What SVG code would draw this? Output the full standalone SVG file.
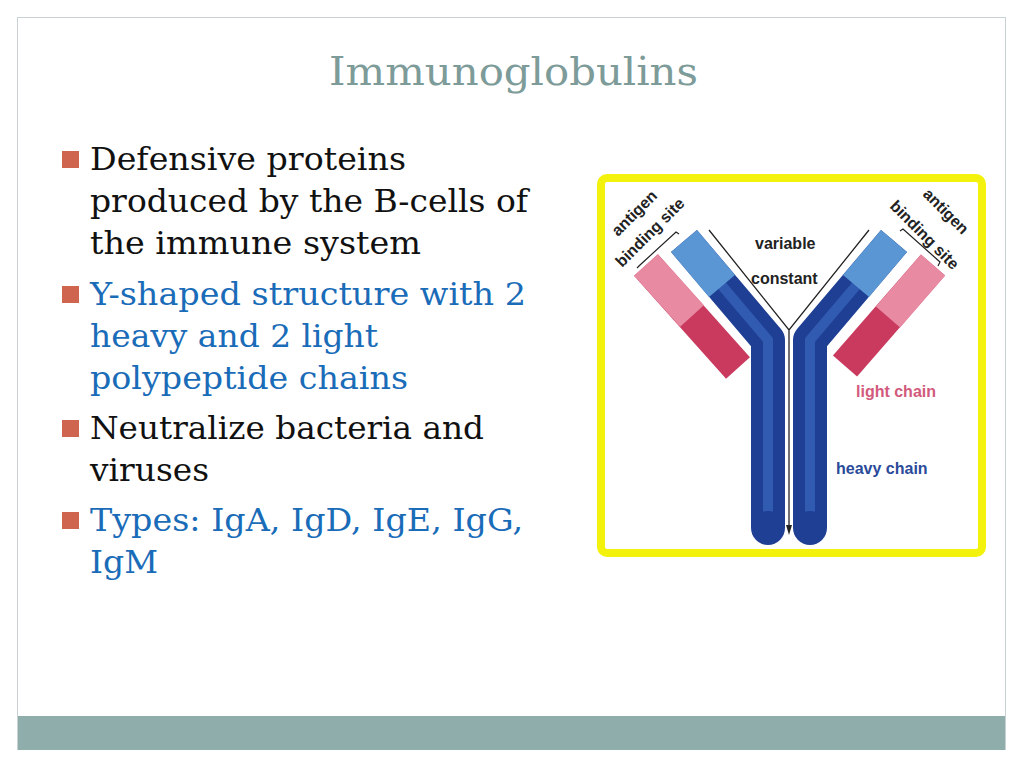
<svg xmlns="http://www.w3.org/2000/svg" width="1024" height="768" viewBox="0 0 1024 768">
<defs>
<style>
.b{font-family:"DejaVu Serif","Liberation Serif",serif;font-size:31px}
.k{fill:#111}.u{fill:#1a6cb8}
.l{font-family:"Liberation Sans",Arial,sans-serif;font-weight:bold;font-size:16px;fill:#222}
.sq{fill:#d0654f}
</style>
</defs>
<rect x="0" y="0" width="1024" height="768" fill="#fff"/>
<rect x="17.5" y="17.5" width="988" height="732" fill="#fff" stroke="#c8d2d2"/>
<rect x="18" y="716" width="987" height="34" fill="#8eadab"/>
<text x="329" y="85" textLength="369" lengthAdjust="spacingAndGlyphs" font-family="DejaVu Serif,serif" font-size="40" fill="#7d9b99">Immunoglobulins</text>
<g id="bullets">
<rect class="sq" x="62" y="151" width="17" height="17"/>
<rect class="sq" x="62" y="286" width="17" height="17"/>
<rect class="sq" x="62" y="420" width="17" height="17"/>
<rect class="sq" x="62" y="512" width="17" height="17"/>
<text class="b k" x="90" y="170" textLength="316" lengthAdjust="spacingAndGlyphs">Defensive proteins</text>
<text class="b k" x="90" y="212" textLength="438" lengthAdjust="spacingAndGlyphs">produced by the B-cells of</text>
<text class="b k" x="90" y="254" textLength="331" lengthAdjust="spacingAndGlyphs">the immune system</text>
<text class="b u" x="90" y="305" textLength="436" lengthAdjust="spacingAndGlyphs">Y-shaped structure with 2</text>
<text class="b u" x="90" y="347" textLength="288" lengthAdjust="spacingAndGlyphs">heavy and 2 light</text>
<text class="b u" x="90" y="389" textLength="318" lengthAdjust="spacingAndGlyphs">polypeptide chains</text>
<text class="b k" x="90" y="439" textLength="394" lengthAdjust="spacingAndGlyphs">Neutralize bacteria and</text>
<text class="b k" x="90" y="481" textLength="119" lengthAdjust="spacingAndGlyphs">viruses</text>
<text class="b u" x="90" y="531" textLength="433" lengthAdjust="spacingAndGlyphs">Types: IgA, IgD, IgE, IgG,</text>
<text class="b u" x="90" y="573" textLength="68" lengthAdjust="spacingAndGlyphs">IgM</text>
</g>
<g id="antibody">
<rect x="601" y="178" width="381" height="375" rx="6" fill="#fff" stroke="#f2f20c" stroke-width="8"/>
<line x1="646" y1="265" x2="738" y2="368" stroke="#c93a5e" stroke-width="32"/>
<line x1="646" y1="265" x2="692" y2="316" stroke="#e88aa2" stroke-width="32"/>
<line x1="933" y1="265" x2="845" y2="366" stroke="#c93a5e" stroke-width="32"/>
<line x1="933" y1="265" x2="888" y2="317" stroke="#e88aa2" stroke-width="32"/>
<polyline points="684,241 768,340 768,528" fill="none" stroke="#1f3f94" stroke-width="34" stroke-linejoin="round"/>
<polyline points="684,241 768,340 768,528" fill="none" stroke="#3d6cc4" stroke-width="10" stroke-linejoin="round" opacity="0.6"/>
<line x1="684" y1="241" x2="722" y2="286" stroke="#5a95d4" stroke-width="34"/>
<polyline points="894,241 810,340 810,528" fill="none" stroke="#1f3f94" stroke-width="34" stroke-linejoin="round"/>
<polyline points="894,241 810,340 810,528" fill="none" stroke="#3d6cc4" stroke-width="10" stroke-linejoin="round" opacity="0.6"/>
<line x1="894" y1="241" x2="856" y2="286" stroke="#5a95d4" stroke-width="34"/>
<circle cx="768" cy="528" r="17" fill="#1f3f94"/>
<circle cx="810" cy="528" r="17" fill="#1f3f94"/>
<polyline points="709,230 789,330 869,230" fill="none" stroke="#fff" stroke-width="4"/>
<polyline points="709,230 789,330 869,230" fill="none" stroke="#222" stroke-width="1.3"/>
<line x1="789" y1="330" x2="789" y2="532" stroke="#fff" stroke-width="5"/>
<line x1="789" y1="330" x2="789" y2="530" stroke="#222" stroke-width="1.3"/>
<path d="M786,525 L789,535 L792,525Z" fill="#222"/>
<polyline points="637,268 640,265 676,232 679,234" fill="none" stroke="#222" stroke-width="1.2"/>
<polyline points="900,231 903,229 940,262 938,266" fill="none" stroke="#222" stroke-width="1.2"/>
<text class="l" x="755" y="249">variable</text>
<text class="l" x="751" y="284">constant</text>
<text class="l" x="856" y="397" style="fill:#d25a7c">light chain</text>
<text class="l" x="836" y="474" style="fill:#2a4a9a">heavy chain</text>
<text class="l" transform="translate(618,237) rotate(-45)">antigen</text>
<text class="l" transform="translate(622,268) rotate(-45)">binding site</text>
<text class="l" transform="translate(922,195) rotate(45)">antigen</text>
<text class="l" transform="translate(889,207) rotate(45)">binding site</text>
</g>
</svg>
